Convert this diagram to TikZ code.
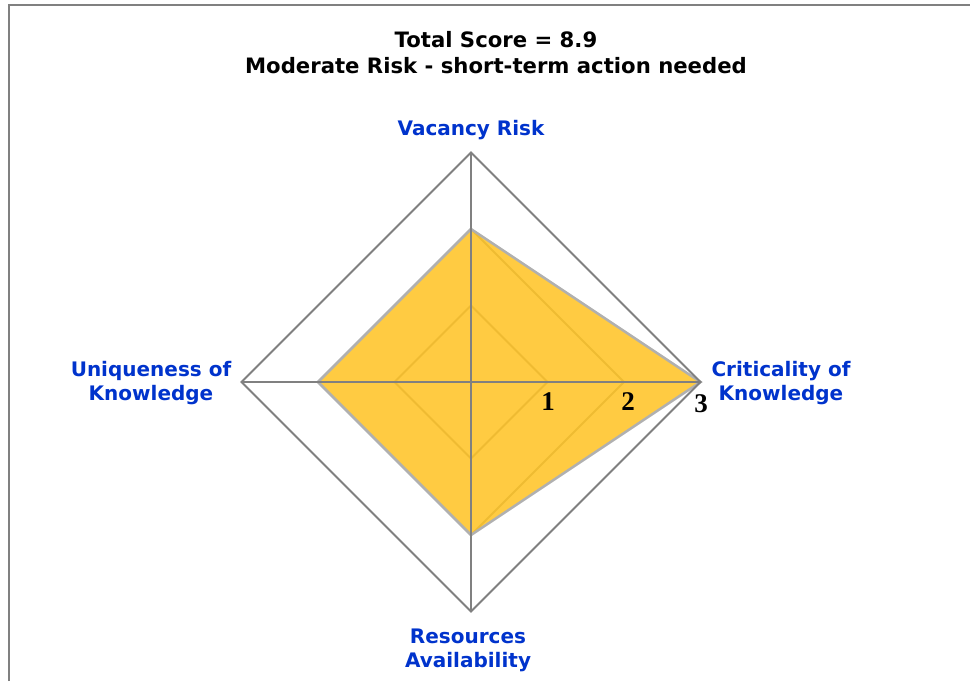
\documentclass[tikz,border=0pt]{standalone}
\usepackage{fontspec}
\setmainfont{DejaVu Sans}
\newfontfamily\tickfont{Liberation Serif}
\usetikzlibrary{positioning}

\definecolor{axisblue}{RGB}{0,51,204}
\definecolor{gridgray}{RGB}{128,128,128}
\definecolor{edgegray}{RGB}{176,176,176}
\definecolor{riskfill}{RGB}{255,196,40}

\begin{document}
\begin{tikzpicture}[x=1pt,y=-1pt,every text node part/.style={align=center},
axislabel/.style={text=axisblue,font=\fontsize{20}{24}\selectfont\bfseries},
ticklabel/.style={font=\fontsize{27}{27}\selectfont\tickfont\bfseries,inner sep=0pt},
gridline/.style={draw=gridgray,line width=1.8pt}]
\useasboundingbox (0,0) rectangle (970,681);
\draw[gridgray,line width=2.5pt] (9,681) -- (9,5) -- (970,5);
\node [font=\fontsize{21.2}{26}\selectfont\bfseries] (title) at (496,53) {Total Score = 8.9\\Moderate Risk - short-term action needed};
% axes
\coordinate (O) at (471,382);
\coordinate (vac) at (471,152.5);
\coordinate (crit) at (700.5,382);
\coordinate (res) at (471,611.5);
\coordinate (uniq) at (241.5,382);
% inner rings
\foreach \r in {76.5,153}
  \draw[gridline] (471,382-\r) -- (471+\r,382) -- (471,382+\r) -- (471-\r,382) -- cycle;
% score area
\fill[riskfill,fill opacity=0.88] (471,229) -- (700.5,382) -- (471,535) -- (318,382) -- cycle;
\draw[edgegray,line width=2.5pt,line join=miter] (471,229) -- (700.5,382) -- (471,535) -- (318,382) -- cycle;
% spokes and outer ring
\draw[gridline] (vac) -- (res);
\draw[gridline] (uniq) -- (crit);
\draw[gridline] (vac) -- (crit) -- (res) -- (uniq) -- cycle;
% labels
\node [axislabel] (vaclabel) at (471,130) {Vacancy Risk};
\node [axislabel] (critlabel) at (781,383) {Criticality of\\Knowledge};
\node [axislabel] (reslabel) at (468,650) {Resources\\Availability};
\node [axislabel] (uniqlabel) at (151,383) {Uniqueness of\\Knowledge};
\node [ticklabel] (one) at (548,402) {1};
\node [ticklabel] (two) at (628,402) {2};
\node [ticklabel] (three) at (701,404) {3};
\end{tikzpicture}
\end{document}
